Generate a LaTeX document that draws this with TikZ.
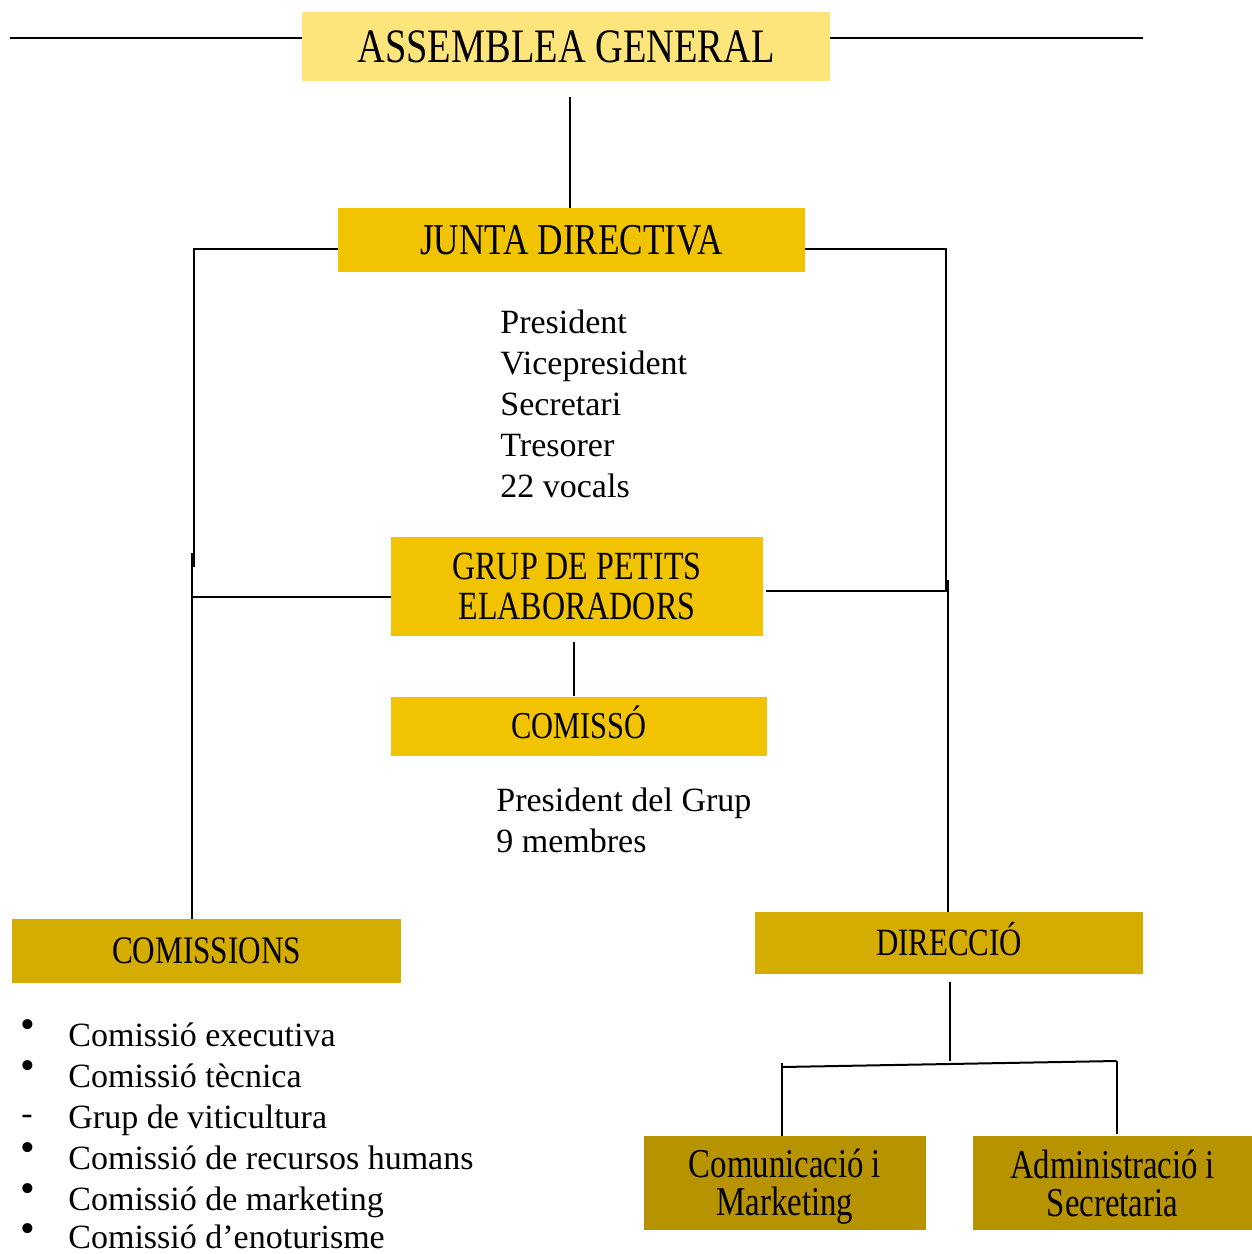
\documentclass[tikz,border=0pt]{standalone}
\usepackage{fontspec}
\setmainfont{Liberation Serif}
\newfontfamily\cond[FakeStretch=0.8]{Liberation Serif}
\definecolor{lightyel}{HTML}{FDE47B}
\definecolor{gold}{HTML}{F2C300}
\definecolor{midgold}{HTML}{D5AD00}
\definecolor{darkgold}{HTML}{B79300}
\tikzset{
  box/.style={rectangle, inner sep=0pt, draw=none, align=center},
  conn/.style={line width=1pt, black},
  body/.style={inner sep=0pt, anchor=base west, font=\fontsize{17pt}{20.5pt}\selectfont},
  bulletmk/.style={inner sep=0pt, anchor=center, font=\fontsize{21pt}{22pt}\selectfont}
}
\begin{document}
\begin{tikzpicture}[x=0.5pt, y=-0.5pt]
\useasboundingbox (0,0) rectangle (1252,1254);
% boxes
\node[box, fill=lightyel, minimum width=264pt, minimum height=34.5pt, text height=15.9pt, text depth=0pt,
  font=\cond\fontsize{24pt}{28pt}\selectfont] (ag) at (566,46.5) {ASSEMBLEA GENERAL};
\node[box, fill=gold, minimum width=233.5pt, minimum height=32pt, text height=14.5pt, text depth=0pt,
  font=\cond\fontsize{22pt}{26pt}\selectfont] (jd) at (571.5,240) {JUNTA DIRECTIVA};
\node[box, fill=gold, minimum width=186pt, minimum height=49.5pt,
  font=\cond\fontsize{20pt}{20pt}\selectfont] (gp) at (577,586.5) {GRUP DE PETITS\\ELABORADORS};
\node[box, fill=gold, minimum width=188pt, minimum height=29.5pt, text height=12.5pt, text depth=0pt,
  font=\cond\fontsize{19pt}{22pt}\selectfont] (com) at (579,726) {COMISSÓ};
\node[box, fill=midgold, minimum width=194.5pt, minimum height=32pt, text height=12.9pt, text depth=0pt,
  font=\cond\fontsize{19.5pt}{22pt}\selectfont] (cms) at (206.5,951) {COMISSIONS};
\node[box, fill=midgold, minimum width=194pt, minimum height=31pt, text height=12.7pt, text depth=0pt,
  font=\cond\fontsize{19.3pt}{22pt}\selectfont] (dir) at (949,943) {DIRECCIÓ};
\node[box, fill=darkgold, minimum width=141pt, minimum height=47pt,
  font=\cond\fontsize{20.5pt}{19pt}\selectfont] (cm) at (785,1183) {Comunicaci\smash{ó} i\\Marketin\smash{g}};
\node[box, fill=darkgold, minimum width=139.5pt, minimum height=47pt,
  font=\cond\fontsize{20.5pt}{19pt}\selectfont] (as) at (1112.5,1183) {Administraci\smash{ó} i\\Secretaria};
% body texts
\node[body] (t1) at (500,333) {President};
\node[body] (t2) at (500,374) {Vicepresident};
\node[body] (t3) at (500,415) {Secretari};
\node[body] (t4) at (500,456) {Tresorer};
\node[body] (t5) at (500,497) {22 vocals};
\node[body] (p1) at (496,811) {President del Grup};
\node[body] (p2) at (496,852) {9 membres};
% list
\node[body] (l1) at (68,1046) {Comissió executiva};
\node[body] (l2) at (68,1087) {Comissió tècnica};
\node[body] (l3) at (68,1128) {Grup de viticultura};
\node[body] (l4) at (68,1169) {Comissió de recursos humans};
\node[body] (l5) at (68,1210) {Comissió de marketing};
\node[body] (l6) at (68,1248) {Comissió d’enoturisme};
\node[bulletmk] (b1) at (28,1029) {•};
\node[bulletmk] (b2) at (28,1070) {•};
\node[bulletmk, font=\fontsize{17pt}{20pt}\selectfont] (b3) at (27,1120) {-};
\node[bulletmk] (b4) at (28,1152) {•};
\node[bulletmk] (b5) at (28,1193) {•};
\node[bulletmk] (b6) at (28,1233) {•};
% connectors
\coordinate (tl) at (10,38);
\coordinate (tr) at (1143,38);
\draw[conn] (tl) -- (tl -| ag.west);
\draw[conn] (tr) -- (tr -| ag.east);
\coordinate (agb) at (570,97);
\draw[conn] (agb) -- (agb |- jd.north);
\coordinate (lc1) at (193.5,249);
\coordinate (lc2) at (193.5,567);
\draw[conn] (jd.west |- lc1) -- (lc1) -- (lc2);
\coordinate (lc3) at (191.5,553);
\draw[conn] (lc3) -- (lc3 |- cms.north);
\coordinate (lg) at (191.5,597);
\draw[conn] (lg) -- (lg -| gp.west);
\coordinate (rc1) at (946,249);
\coordinate (rc2) at (946,592);
\draw[conn] (jd.east |- rc1) -- (rc1) -- (rc2);
\coordinate (rc3) at (947.5,580);
\draw[conn] (rc3) -- (rc3 |- dir.north);
\coordinate (rg) at (946,591);
\draw[conn] ([xshift=1.5pt]gp.east |- rg) -- (rg);
\coordinate (gc) at (574,642);
\draw[conn] (gc) -- (gc |- com.north);
\coordinate (dc) at (950,982);
\coordinate (dh) at (950,1061);
\draw[conn] (dc) -- (dh);
\coordinate (bl) at (782,1067);
\coordinate (br) at (1116.5,1061);
\draw[conn] (bl) -- (br);
\coordinate (bl0) at (782,1063);
\draw[conn] (bl0) -- (bl0 |- cm.north);
\coordinate (br1) at (1116.5,1134);
\draw[conn] (br) -- (br1);
\end{tikzpicture}
\end{document}
